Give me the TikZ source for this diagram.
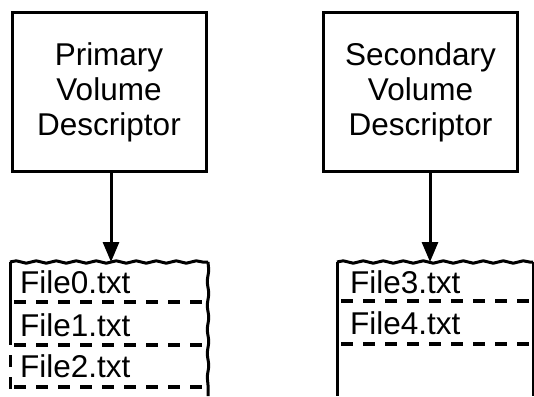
\documentclass[tikz,border=0pt]{standalone}
\usepackage{fontspec}
\setmainfont{Liberation Sans}
\usetikzlibrary{arrows.meta,decorations.pathmorphing}
\begin{document}
\begin{tikzpicture}[x=1pt,y=-1pt,
  desc/.style={draw,line width=3pt,minimum width=194pt,minimum height=158pt,
    align=center,font=\fontsize{31.5}{35}\selectfont,inner sep=0pt},
  fname/.style={anchor=base west,font=\fontsize{31.5}{35}\selectfont,inner sep=0pt},
  edge/.style={line width=3pt},
  wavy/.style={line width=3pt,decorate,decoration={snake,segment length=20pt,amplitude=1.2pt}},
  sep/.style={line width=3.4pt,dash pattern=on 12pt off 10pt},
  link/.style={line width=3pt,-{Triangle[length=20pt,width=16pt]}}]
\useasboundingbox (0,0) rectangle (534,396);
% descriptor boxes
\node[desc] (pvd) at (109,92) {Primary\\Volume\\Descriptor};
\node[desc] (svd) at (420.5,92) {Secondary\\Volume\\Descriptor};
% list tops
\coordinate (ltop) at (111,262);
\coordinate (rtop) at (430,262);
% left list
\draw[wavy] (10,262) -- (208,262);
\draw[edge] (10,262) -- (10,345);
\draw[line width=3pt,dash pattern=on 12pt off 10pt] (10,355) -- (10,396);
\draw[wavy,decoration={snake,segment length=24pt,amplitude=0.7pt}] (208,262) -- (208,396);
\draw[sep] (14,302) -- (208,302);
\draw[sep] (14,345) -- (208,345);
\draw[sep] (14,387) -- (208,387);
\node[fname] (f0) at (20,293) {File0.txt};
\node[fname] (f1) at (20,336) {File1.txt};
\node[fname] (f2) at (20,377) {File2.txt};
% right list
\draw[wavy] (337,262) -- (533,262);
\draw[edge] (337,262) -- (337,396);
\draw[line width=1.6pt] (533,262) -- (533,396);
\draw[sep] (341,301) -- (533,301);
\draw[sep] (341,344) -- (533,344);
\node[fname] (f3) at (350,293) {File3.txt};
\node[fname] (f4) at (350,334) {File4.txt};
% connectors
\draw[link] (pvd.south -| ltop) -- (ltop);
\draw[link] (svd.south -| rtop) -- (rtop);
\end{tikzpicture}
\end{document}
